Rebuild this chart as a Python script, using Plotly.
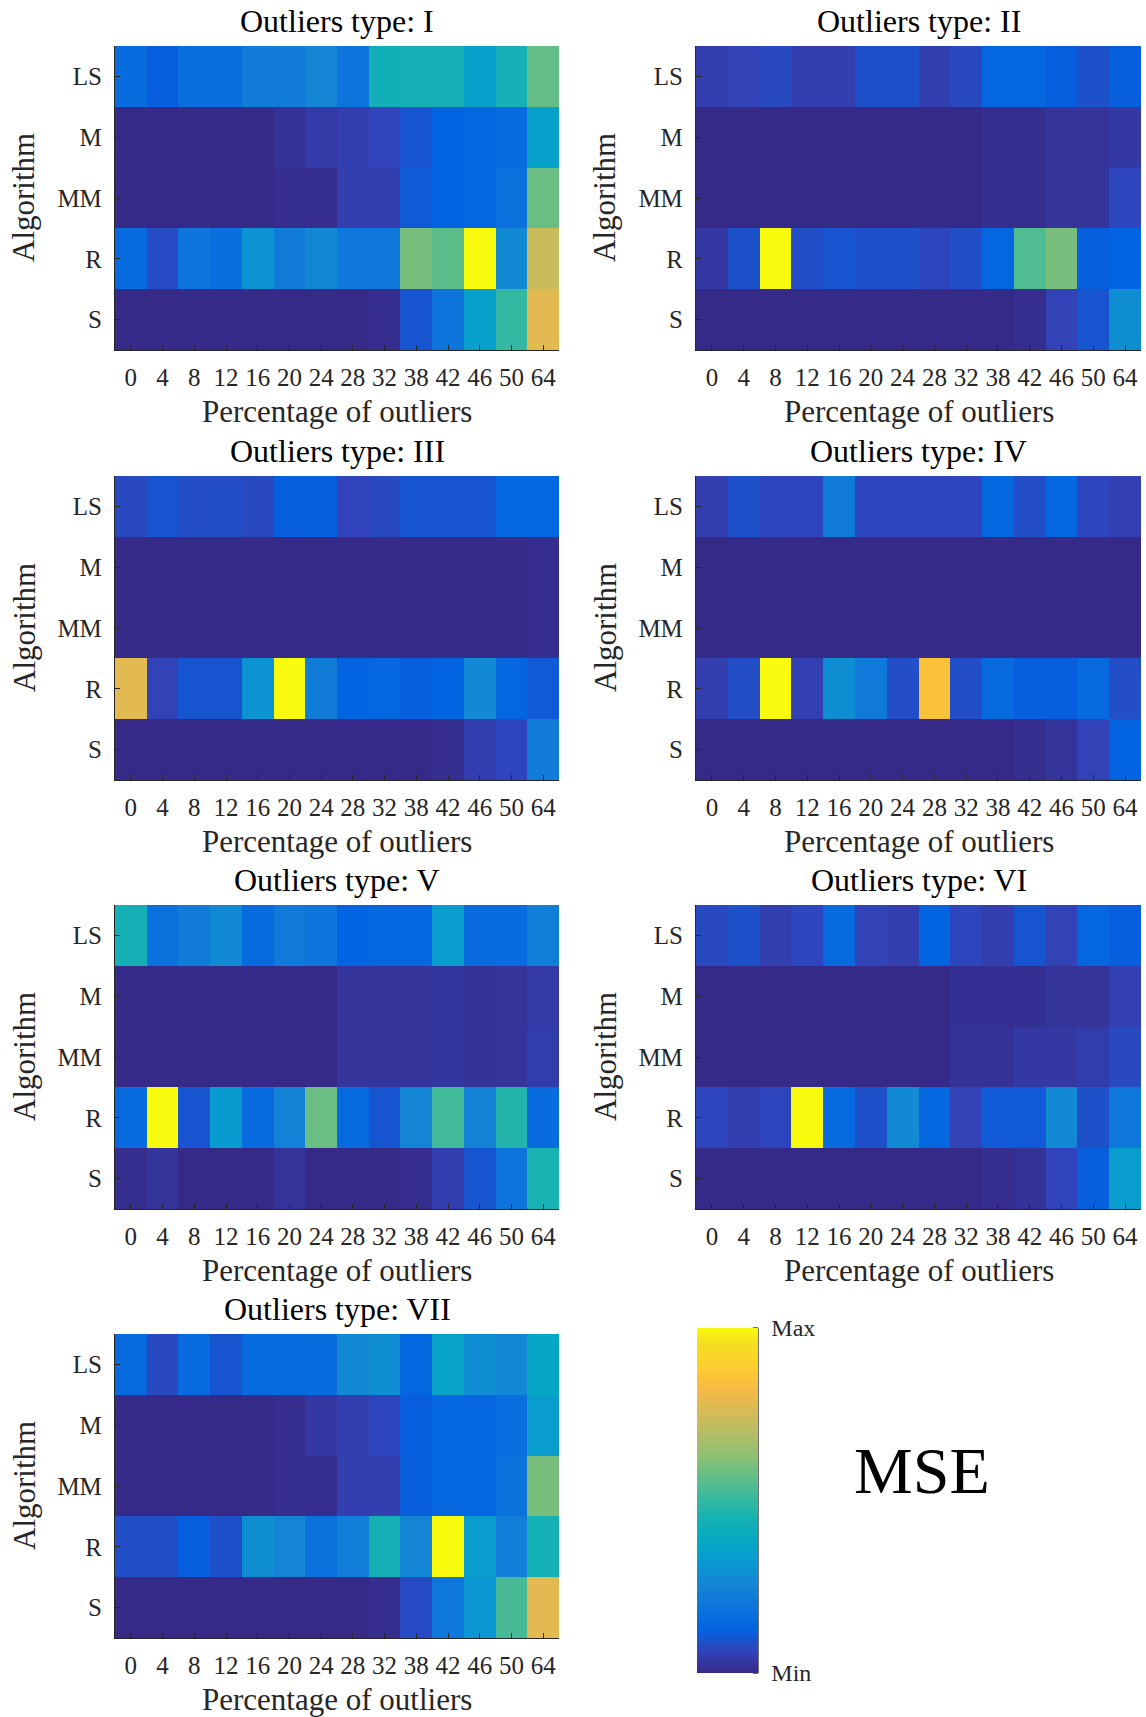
import plotly.graph_objects as go

# Percentage of outliers (x categories) and algorithms (y categories)
percentages = ["0", "4", "8", "12", "16", "20", "24", "28", "32", "38", "42", "46", "50", "64"]
algorithms = ["LS", "M", "MM", "R", "S"]

# Normalised MSE per outlier type (0 = Min, 1 = Max), rows follow `algorithms`
mse_I = [
    [0.16, 0.12, 0.17, 0.17, 0.22, 0.22, 0.25, 0.19, 0.43, 0.44, 0.44, 0.35, 0.44, 0.57],
    [0.00, 0.00, 0.00, 0.00, 0.00, 0.02, 0.04, 0.05, 0.065, 0.10, 0.13, 0.14, 0.15, 0.35],
    [0.00, 0.00, 0.00, 0.00, 0.00, 0.01, 0.01, 0.05, 0.05, 0.11, 0.13, 0.14, 0.18, 0.58],
    [0.15, 0.08, 0.19, 0.17, 0.30, 0.22, 0.26, 0.20, 0.20, 0.60, 0.56, 1.00, 0.27, 0.73],
    [0.00, 0.00, 0.00, 0.00, 0.00, 0.00, 0.00, 0.00, 0.01, 0.10, 0.19, 0.35, 0.50, 0.78],
]
mse_II = [
    [0.05, 0.06, 0.075, 0.05, 0.05, 0.09, 0.09, 0.05, 0.075, 0.14, 0.14, 0.12, 0.09, 0.12],
    [0.00, 0.00, 0.00, 0.00, 0.00, 0.00, 0.00, 0.00, 0.00, 0.01, 0.01, 0.025, 0.025, 0.035],
    [0.00, 0.00, 0.00, 0.00, 0.00, 0.00, 0.00, 0.00, 0.00, 0.01, 0.01, 0.025, 0.025, 0.07],
    [0.035, 0.09, 1.00, 0.085, 0.10, 0.09, 0.09, 0.07, 0.085, 0.14, 0.54, 0.60, 0.12, 0.13],
    [0.00, 0.00, 0.00, 0.00, 0.00, 0.00, 0.00, 0.00, 0.00, 0.00, 0.01, 0.06, 0.10, 0.28],
]
mse_III = [
    [0.075, 0.10, 0.085, 0.085, 0.075, 0.12, 0.12, 0.065, 0.075, 0.10, 0.10, 0.10, 0.14, 0.14],
    [0.00, 0.00, 0.00, 0.00, 0.00, 0.00, 0.00, 0.00, 0.00, 0.00, 0.00, 0.00, 0.00, 0.01],
    [0.00, 0.00, 0.00, 0.00, 0.00, 0.00, 0.00, 0.00, 0.00, 0.00, 0.00, 0.00, 0.00, 0.01],
    [0.78, 0.06, 0.10, 0.10, 0.30, 1.00, 0.22, 0.13, 0.14, 0.12, 0.13, 0.27, 0.14, 0.11],
    [0.00, 0.00, 0.00, 0.00, 0.00, 0.00, 0.00, 0.00, 0.00, 0.00, 0.01, 0.05, 0.07, 0.22],
]
mse_IV = [
    [0.05, 0.09, 0.07, 0.07, 0.22, 0.07, 0.07, 0.07, 0.07, 0.14, 0.085, 0.14, 0.07, 0.055],
    [0.00, 0.00, 0.00, 0.00, 0.00, 0.00, 0.00, 0.00, 0.00, 0.00, 0.00, 0.00, 0.00, 0.00],
    [0.00, 0.00, 0.00, 0.00, 0.00, 0.00, 0.00, 0.00, 0.00, 0.00, 0.00, 0.00, 0.00, 0.00],
    [0.05, 0.085, 1.00, 0.055, 0.28, 0.21, 0.085, 0.85, 0.085, 0.15, 0.12, 0.12, 0.15, 0.085],
    [0.00, 0.00, 0.00, 0.00, 0.00, 0.00, 0.00, 0.00, 0.00, 0.00, 0.01, 0.025, 0.06, 0.13],
]
mse_V = [
    [0.44, 0.18, 0.22, 0.27, 0.15, 0.21, 0.19, 0.13, 0.14, 0.14, 0.34, 0.16, 0.16, 0.23],
    [0.00, 0.00, 0.00, 0.00, 0.00, 0.00, 0.00, 0.025, 0.025, 0.025, 0.03, 0.02, 0.025, 0.04],
    [0.00, 0.00, 0.00, 0.00, 0.00, 0.00, 0.00, 0.025, 0.025, 0.025, 0.03, 0.02, 0.025, 0.045],
    [0.15, 1.00, 0.10, 0.33, 0.15, 0.24, 0.58, 0.15, 0.10, 0.25, 0.52, 0.24, 0.47, 0.16],
    [0.01, 0.025, 0.00, 0.00, 0.00, 0.025, 0.00, 0.00, 0.00, 0.01, 0.05, 0.10, 0.19, 0.45],
]
mse_VI = [
    [0.075, 0.09, 0.05, 0.07, 0.15, 0.06, 0.05, 0.13, 0.07, 0.05, 0.10, 0.06, 0.14, 0.12],
    [0.00, 0.00, 0.00, 0.00, 0.00, 0.00, 0.00, 0.00, 0.015, 0.015, 0.015, 0.025, 0.025, 0.055],
    [0.00, 0.00, 0.00, 0.00, 0.00, 0.00, 0.00, 0.00, 0.02, 0.02, 0.035, 0.035, 0.045, 0.075],
    [0.07, 0.05, 0.07, 1.00, 0.15, 0.09, 0.27, 0.14, 0.06, 0.11, 0.11, 0.27, 0.09, 0.20],
    [0.00, 0.00, 0.00, 0.00, 0.00, 0.00, 0.00, 0.00, 0.00, 0.01, 0.02, 0.065, 0.12, 0.34],
]
mse_VII = [
    [0.15, 0.075, 0.15, 0.10, 0.15, 0.15, 0.16, 0.27, 0.28, 0.14, 0.37, 0.28, 0.26, 0.38],
    [0.00, 0.00, 0.00, 0.00, 0.00, 0.01, 0.035, 0.05, 0.07, 0.12, 0.14, 0.14, 0.17, 0.34],
    [0.00, 0.00, 0.00, 0.00, 0.00, 0.01, 0.01, 0.05, 0.05, 0.12, 0.14, 0.14, 0.18, 0.60],
    [0.085, 0.085, 0.12, 0.09, 0.28, 0.25, 0.18, 0.23, 0.44, 0.25, 1.00, 0.34, 0.23, 0.44],
    [0.00, 0.00, 0.00, 0.00, 0.00, 0.00, 0.00, 0.00, 0.01, 0.08, 0.20, 0.31, 0.53, 0.78],
]

type_names = ["I", "II", "III", "IV", "V", "VI", "VII"]
type_values = [mse_I, mse_II, mse_III, mse_IV, mse_V, mse_VI, mse_VII]

# Parula-like colour scale
PARULA_HEX = ["#352A87", "#3243BA", "#0363E1", "#0D75DC", "#1485D4", "#0998D1",
              "#06A7C6", "#15B1B4", "#38B99E", "#65BE86", "#92BF73", "#B7BD64",
              "#D9BA56", "#F8BB44", "#FCCE2E", "#F5DE21", "#F9FB0E"]
PARULA_POS = [0, 4, 8, 12, 16, 20, 24, 28, 32, 36, 40, 44, 48, 52, 56, 60, 63]
PARULA = [[p / 63, c] for p, c in zip(PARULA_POS, PARULA_HEX)]

W, H = 1146, 1717
SERIF = "Liberation Serif, Times New Roman, serif"
INK = "#262626"

# Panel placement in pixels: (left, right) per column, (top, bottom) per row
cols_px = [(115, 559), (696, 1141)]
rows_px = [(46, 350), (476, 780), (905, 1209), (1334, 1638)]


def px_x(v):
    return v / W


def px_y(v):
    return 1 - v / H


fig = go.Figure()
annotations = []
layout_axes = {}

for i, (name, z) in enumerate(zip(type_names, type_values)):
    r, c = divmod(i, 2)
    (x0, x1), (y0, y1) = cols_px[c], rows_px[r]
    k = "" if i == 0 else str(i + 1)
    fig.add_trace(go.Heatmap(
        x=percentages, y=algorithms, z=z,
        coloraxis="coloraxis", xgap=0, ygap=0,
        xaxis="x" + k, yaxis="y" + k,
        hovertemplate="%{y}, %{x}%%: %{z}<extra>" + name + "</extra>",
    ))
    axis_common = dict(
        showline=True, linecolor=INK, linewidth=1.3,
        ticks="inside", ticklen=5, tickwidth=1.3, tickcolor=INK,
        tickfont=dict(family=SERIF, size=25, color=INK),
        showgrid=False, zeroline=False, mirror=False, fixedrange=True,
        type="category",
    )
    layout_axes["xaxis" + k] = dict(
        axis_common, domain=[px_x(x0), px_x(x1)], anchor="y" + k,
        categoryorder="array", categoryarray=percentages,
        ticklabelstandoff=5,
    )
    layout_axes["yaxis" + k] = dict(
        axis_common, domain=[px_y(y1), px_y(y0)], anchor="x" + k,
        categoryorder="array", categoryarray=algorithms, autorange="reversed",
        ticklabelstandoff=7,
    )
    cx = (x0 + x1) / 2
    annotations.append(dict(
        text="Outliers type: " + name, x=px_x(cx), y=px_y(y0 - 25),
        xref="paper", yref="paper", showarrow=False,
        xanchor="center", yanchor="middle",
        font=dict(family=SERIF, size=32, color="#000000"),
    ))
    annotations.append(dict(
        text="Percentage of outliers", x=px_x(cx), y=px_y(y1 + 61),
        xref="paper", yref="paper", showarrow=False,
        xanchor="center", yanchor="middle",
        font=dict(family=SERIF, size=31, color=INK),
    ))
    annotations.append(dict(
        text="Algorithm", x=px_x(x0 - 91), y=px_y((y0 + y1) / 2),
        xref="paper", yref="paper", showarrow=False, textangle=-90,
        xanchor="center", yanchor="middle",
        font=dict(family=SERIF, size=31, color=INK),
    ))

# Colour bar in the empty eighth cell
cb_left, cb_right, cb_top, cb_bottom = 697, 758, 1328, 1673
annotations.append(dict(
    text="MSE", x=px_x(922), y=px_y(1470),
    xref="paper", yref="paper", showarrow=False,
    xanchor="center", yanchor="middle",
    font=dict(family=SERIF, size=66, color="#000000"),
))

# Right-hand edge of the colour bar with small inward ticks at Min and Max
cb_shapes = [dict(
    type="line", xref="paper", yref="paper",
    x0=px_x(cb_right), x1=px_x(cb_right), y0=px_y(cb_top), y1=px_y(cb_bottom),
    line=dict(color=INK, width=1.3),
)]
for yy in (cb_top, cb_bottom):
    cb_shapes.append(dict(
        type="line", xref="paper", yref="paper",
        x0=px_x(cb_right - 5), x1=px_x(cb_right), y0=px_y(yy), y1=px_y(yy),
        line=dict(color=INK, width=1.3),
    ))

fig.update_layout(
    width=W, height=H,
    margin=dict(l=0, r=0, t=0, b=0),
    paper_bgcolor="white", plot_bgcolor="white",
    showlegend=False,
    annotations=annotations,
    coloraxis=dict(
        colorscale=PARULA, cmin=0, cmax=1,
        colorbar=dict(
            x=px_x(cb_left), xanchor="left", xref="paper",
            y=px_y((cb_top + cb_bottom) / 2), yanchor="middle", yref="paper",
            thicknessmode="pixels", thickness=cb_right - cb_left,
            lenmode="pixels", len=cb_bottom - cb_top,
            xpad=0, ypad=0, outlinewidth=0,
            tickmode="array", tickvals=[0, 1], ticktext=["Min", "Max"],
            ticks="outside", ticklen=9, tickwidth=1, tickcolor="rgba(0,0,0,0)",
            tickfont=dict(family=SERIF, size=24, color=INK),
        ),
    ),
    shapes=cb_shapes,
    **layout_axes,
)

fig.write_html("out.html")
